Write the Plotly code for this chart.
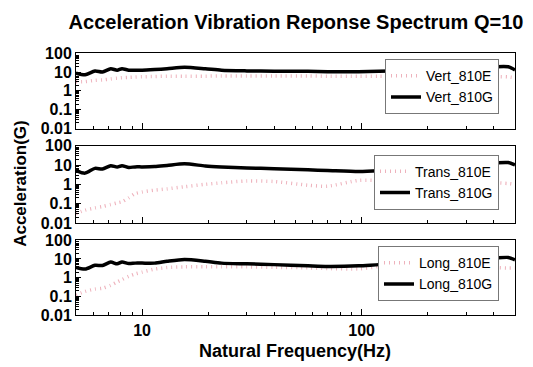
import plotly.graph_objects as go

freq = [5, 5.5, 6.1, 6.6, 7.2, 7.7, 8.1, 8.7, 9.3, 10, 11.4, 13, 15.6, 19.4, 23,
        30, 40, 57, 70, 97, 120, 150, 200, 250, 300, 400, 466, 500]

vert_810E = [3, 3.1, 3.6, 3.8, 4.3, 4.7, 5, 5.2, 5.4, 5.6, 5.8, 6, 6, 6, 6.2,
             6.2, 6.2, 6.2, 6, 6, 6, 6, 6, 6, 6, 5.8, 5.5, 5]
vert_810G = [8.6, 7.1, 11.3, 10, 15, 12.5, 15, 12.5, 12.5, 12.5, 13.5, 15, 18, 15, 12.5,
             11.5, 11, 11, 10.5, 10.5, 11, 12, 14, 16, 17, 19, 19, 13]
trans_810E = [0.03, 0.046, 0.06, 0.071, 0.09, 0.11, 0.126, 0.2, 0.33, 0.4, 0.5, 0.58, 0.75, 1.0, 1.2,
              1.5, 1.4, 0.9, 0.8, 1.6, 1.6, 1.6, 1.5, 1.4, 1.3, 1.2, 1.1, 1.0]
trans_810G = [5.2, 3.8, 6.7, 6.2, 9.2, 7.8, 9.2, 7.5, 8, 8, 8.3, 9.5, 11.5, 9, 8,
              7, 6.5, 5.6, 5.2, 4.6, 5, 6, 8.2, 10.5, 12, 13, 13.4, 10]
long_810E = [0.12, 0.19, 0.25, 0.28, 0.4, 0.6, 0.8, 1.2, 1.6, 2.0, 2.9, 3.5, 3.8, 3.8, 3.8,
             3.8, 3.6, 3.4, 3.1, 3, 4, 7, 8.5, 7.5, 4.5, 3.5, 3.3, 3.3]
long_810G = [3.5, 2.9, 4.6, 4.5, 6.8, 5.5, 6.9, 5.7, 6, 6, 6, 7.5, 9.4, 7.6, 6,
             5.5, 5, 4.3, 4, 4.3, 5, 5.5, 6.5, 8, 9.5, 11, 12, 9]

panels = [
    ("Vert_810E", vert_810E, "Vert_810G", vert_810G),
    ("Trans_810E", trans_810E, "Trans_810G", trans_810G),
    ("Long_810E", long_810E, "Long_810G", long_810G),
]

y_ticks = [0.01, 0.1, 1, 10, 100]
y_tick_text = ["0.01", "0.1", "1", "10", "100"]
x_ticks = [10, 100]
x_tick_text = ["10", "100"]

# minor tick positions (2..9 within each decade)
y_minor = [m * d for d in (0.01, 0.1, 1, 10) for m in range(2, 10)]
x_minor = [m * d for d in (1, 10, 100) for m in range(2, 10) if 5 < m * d < 500]

FONT = "Liberation Sans, Arial, sans-serif"
W, H = 533, 367
x_dom = [68 / W, 507 / W]
px_rows = [(39, 118), (136, 217), (235, 314)]
legend_px = [(491, 103), (491, 203), (491, 299)]

fig = go.Figure()
layout = {}
for i, (nE, dE, nG, dG) in enumerate(panels):
    k = "" if i == 0 else str(i + 1)
    leg = "legend" + k
    fig.add_trace(go.Scatter(x=freq, y=dE, name=nE, mode="lines", line_shape="spline",
                             line=dict(color="rgb(238,178,188)", width=3.5, dash="1px,4px",
                                       smoothing=0.7),
                             xaxis="x" + k, yaxis="y" + k, legend=leg))
    fig.add_trace(go.Scatter(x=freq, y=dG, name=nG, mode="lines", line_shape="spline",
                             line=dict(color="black", width=3.5, smoothing=0.7),
                             xaxis="x" + k, yaxis="y" + k, legend=leg))
    top, bot = px_rows[i]
    layout["xaxis" + k] = dict(
        type="log", range=[0.69897, 2.69897], domain=x_dom, anchor="y" + k,
        showline=True, linecolor="black", linewidth=1, mirror=True,
        ticks="inside", ticklen=6, tickcolor="black", tickvals=x_ticks, ticktext=x_tick_text,
        showticklabels=(i == 2), showgrid=False, zeroline=False,
        minor=dict(tickmode="array", tickvals=x_minor, ticks="inside", ticklen=3,
                   tickcolor="black", showgrid=False),
        tickfont=dict(family=FONT, size=16, color="black", weight="bold"),
    )
    layout["yaxis" + k] = dict(
        type="log", range=[-2, 2], domain=[(H - bot) / H, (H - top) / H], anchor="x" + k,
        showline=True, linecolor="black", linewidth=1, mirror=True,
        ticks="inside", ticklen=5, tickcolor="black", tickvals=y_ticks, ticktext=y_tick_text,
        showgrid=False, zeroline=False,
        minor=dict(tickmode="array", tickvals=y_minor, ticks="inside", ticklen=3,
                   tickcolor="black", showgrid=False),
        tickfont=dict(family=FONT, size=16, color="black", weight="bold"),
    )
    lx, ly = legend_px[i]
    layout[leg] = dict(
        x=lx / W, y=(H - ly) / H, xanchor="right", yanchor="bottom",
        bgcolor="white", bordercolor="#777777", borderwidth=1,
        font=dict(family=FONT, size=14, color="black", weight="normal"),
        tracegroupgap=0, itemwidth=30,
    )

fig.update_layout(
    width=W, height=H, margin=dict(l=0, r=0, t=0, b=0),
    paper_bgcolor="white", plot_bgcolor="white",
    showlegend=True,
    title=dict(text="<b>Acceleration Vibration Reponse Spectrum Q=10</b>",
               x=288 / W, y=1 - 14 / H, xanchor="center", yanchor="middle",
               font=dict(family=FONT, size=20, color="black")),
    annotations=[
        dict(text="<b>Natural Frequency(Hz)</b>", x=287 / W, y=(H - 351) / H,
             xref="paper", yref="paper", showarrow=False, xanchor="center", yanchor="middle",
             font=dict(family=FONT, size=18, color="black")),
        dict(text="<b>Acceleration(G)</b>", x=13 / W, y=(H - 176) / H, textangle=-90,
             xref="paper", yref="paper", showarrow=False, xanchor="center", yanchor="middle",
             font=dict(family=FONT, size=17, color="black")),
    ],
    **layout,
)

fig.write_html("out.html")
